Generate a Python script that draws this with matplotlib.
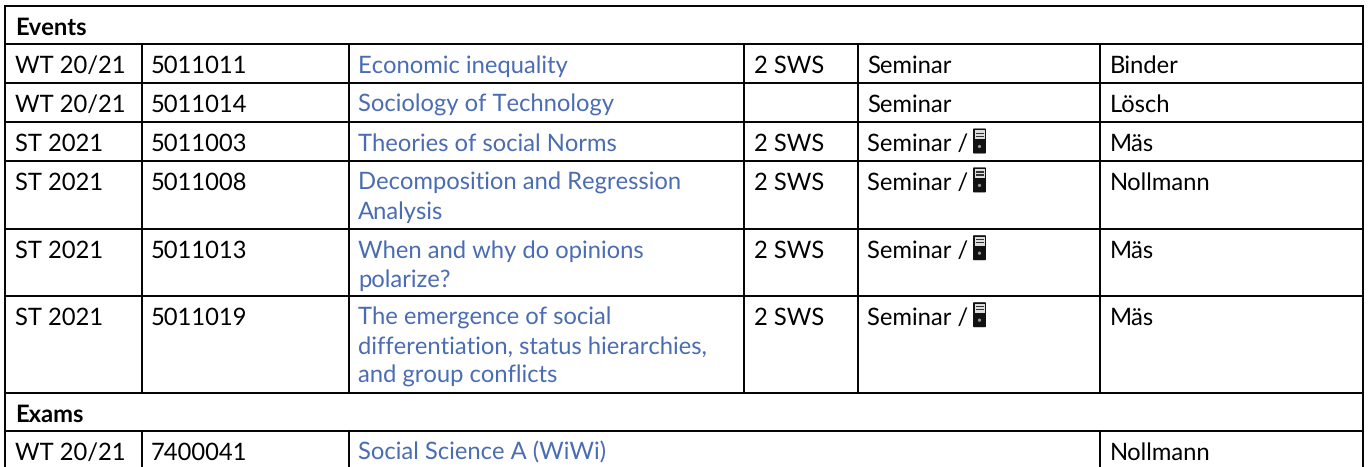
#Table of events and exams, drawn with plain lines and text
import matplotlib
matplotlib.use("Agg")
import matplotlib.pyplot as plt
from matplotlib.patches import Rectangle, Circle, FancyBboxPatch

terms = ["WT 20/21", "WT 20/21", "ST 2021", "ST 2021", "ST 2021", "ST 2021"]
numbers = ["5011011", "5011014", "5011003", "5011008", "5011013", "5011019"]
titles = ["Economic inequality", "Sociology of Technology", "Theories of social Norms",
          "Decomposition and Regression\nAnalysis", "When and why do opinions\npolarize?",
          "The emergence of social\ndifferentiation, status hierarchies,\nand group conflicts"]
hours = ["2 SWS", "", "2 SWS", "2 SWS", "2 SWS", "2 SWS"]
kinds = ["Seminar", "Seminar", "Seminar /", "Seminar /", "Seminar /", "Seminar /"]
people = ["Binder", "Lösch", "Mäs", "Nollmann", "Mäs", "Mäs"]
exam_term = "WT 20/21"
exam_number = "7400041"
exam_title = "Social Science A (WiWi)"
exam_person = "Nollmann"

col_x = [5.3, 141.7, 348.7, 744.2, 858, 1100, 1362.8]
row_y = [6, 44.4, 83.3, 122.3, 161.2, 229, 296, 393, 431]
link = "#4a6cb3"
line_gap = 28.7

plt.rcParams['font.family'] = ['Lato', 'DejaVu Sans']
plt.rcParams['text.hinting'] = 'no_hinting'
fig = plt.figure(figsize=(13.68, 4.67), dpi=100)
ax = fig.add_axes([0, 0, 1, 1])
ax.set_xlim(0, 1368)
ax.set_ylim(467, 0)
ax.axis("off")

def cell(col, top, s, color="black", weight="normal"):
    #one text per line so the baselines sit where they should
    for n, part in enumerate(s.split("\n")):
        ax.text(col_x[col] + 9.4, top + 28.8 + n * line_gap, part, fontsize=17.1, color=color,
                fontweight=weight, va="baseline")

#Rules
for y in row_y:
    ax.plot([col_x[0], col_x[-1]], [y, y], color="black", lw=1.4, solid_capstyle="projecting")
for i, x in enumerate(col_x):
    if i == 0 or i == len(col_x) - 1:
        ax.plot([x, x], [row_y[0], 467], color="black", lw=1.4)
    elif i in (1, 2, 5):
        ax.plot([x, x], [row_y[1], row_y[7]], color="black", lw=1.4)
        ax.plot([x, x], [row_y[8], 467], color="black", lw=1.4)
    else:
        ax.plot([x, x], [row_y[1], row_y[7]], color="black", lw=1.4)

cell(0, row_y[0], "Events", weight="bold")
cell(0, row_y[7], "Exams", weight="bold")

def server_icon(x, y):
    ax.add_patch(FancyBboxPatch((x + 0.5, y + 0.5), 12, 24, boxstyle="round,pad=0.5,rounding_size=1",
                                facecolor="#111111", edgecolor="none"))
    ax.add_patch(Rectangle((x + 1.5, y + 1.5), 10, 9, facecolor="#dddddd", edgecolor="none"))
    ax.add_patch(Rectangle((x + 2.5, y + 4), 8, 1.2, facecolor="#333333", edgecolor="none"))
    ax.add_patch(Rectangle((x + 2.5, y + 7), 8, 1.2, facecolor="#333333", edgecolor="none"))
    ax.add_patch(Circle((x + 6.5, y + 18), 1.6, facecolor="#999999", edgecolor="none"))

for i in range(len(terms)):
    top = row_y[i + 1]
    cell(0, top, terms[i])
    cell(1, top, numbers[i])
    cell(2, top, titles[i], color=link)
    cell(3, top, hours[i])
    cell(4, top, kinds[i])
    cell(5, top, people[i])
    if kinds[i].endswith("/"):
        server_icon(973, top + 6.2)

top = row_y[8]
cell(0, top, exam_term)
cell(1, top, exam_number)
cell(2, top, exam_title, color=link)
cell(5, top, exam_person)

fig.savefig("out.png", dpi=100)
